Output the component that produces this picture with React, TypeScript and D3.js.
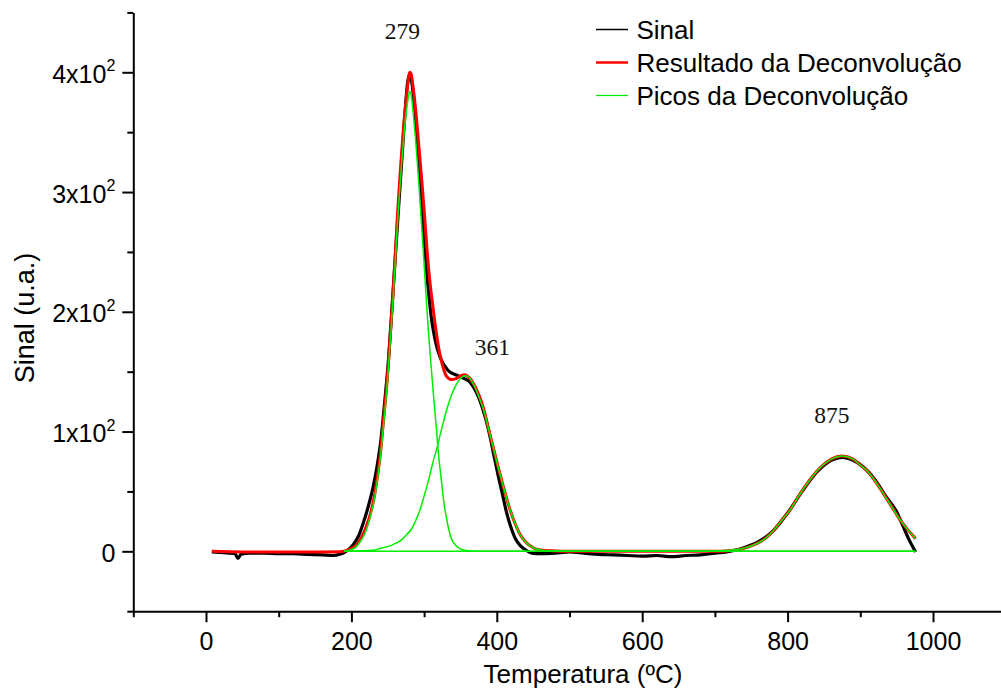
import { useEffect, useRef } from "react";
import * as d3 from "d3";

type Pt = [number, number];

// [temperatura ºC, sinal u.a.]
const sinal: Pt[] = [
  [8, -0.5], [20, -1], [32, -1.5], [40, -2], [44, -6], [48, -2.5], [60, -1.5], [80, -1.5],
  [100, -2], [120, -2], [140, -2.5], [160, -3], [175, -3.5], [184, -2.5], [190, -1], [197, 2],
  [203, 6], [210, 13], [216, 23], [223, 37], [230, 54], [235, 70], [240, 90], [246, 126],
  [251, 160], [256, 205], [260, 242], [265, 288], [270, 333], [274, 368], [277, 390], [280, 398],
  [283, 392], [287, 370], [291, 342], [295, 310], [300, 262], [305, 224], [310, 195], [315, 177],
  [322, 162], [333, 151], [345, 147], [356, 144], [362, 142], [368, 137], [374, 130], [379, 122],
  [385, 110], [391, 95], [396, 80], [402, 63], [408, 47], [414, 31], [420, 19], [426, 10],
  [432, 5], [440, 1], [448, -1.5], [460, -2], [480, -1.5], [500, -0.5], [520, -1.5], [540, -2.5],
  [560, -3], [580, -3.5], [600, -4], [620, -3.5], [640, -4.5], [660, -3.5], [680, -3], [700, -1.5],
  [720, 0], [740, 3], [760, 8], [780, 17], [800, 32], [820, 50], [840, 66], [860, 76],
  [875, 78.5], [890, 76], [905, 70], [920, 60], [935, 46], [950, 33], [958, 22], [966, 11],
  [976, -0.5],
];

const resultado: Pt[] = [
  [8, 0], [50, -0.5], [100, -0.5], [150, -0.5], [185, -0.3], [195, 1], [202, 3], [208, 6],
  [214, 11.5], [220, 20], [226, 31], [231, 44], [235, 59], [240, 82], [244, 108], [248, 134],
  [251, 158], [254, 185], [257, 213], [260, 244], [263, 277], [266, 306], [269, 332], [272, 356],
  [275, 376], [278, 392], [280, 400], [282, 399], [285, 387], [288, 371], [291, 351], [294, 330],
  [297, 308], [300, 285], [304, 252], [308, 225], [312, 205], [316, 186], [320, 170], [325, 156],
  [331, 146], [337, 143.5], [343, 144], [350, 146.5], [356, 147.5], [362, 145], [368, 140],
  [375, 131], [382, 119], [388, 104], [395, 87], [402, 70], [409, 54], [416, 39], [423, 26.5],
  [432, 14], [440, 7.5], [450, 3], [460, 1.2], [480, 0.3], [500, 0], [600, 0], [700, 0],
  [720, 0.5], [740, 2.5], [758, 6.5], [770, 11], [781, 17.5], [792, 26], [804, 35], [815, 46],
  [831, 60], [845, 70], [860, 77], [875, 79.5], [890, 77], [900, 72], [909, 67.5], [920, 59],
  [932, 48], [944, 36.5], [955, 26], [966, 17.5], [976, 10.6],
];

const pico1: Pt[] = [
  [190, 0], [200, 1.5], [206, 3.5], [212, 8], [220, 17], [226, 29], [231, 42], [235, 56],
  [240, 79], [244, 104], [248, 130], [251, 154], [254, 180], [257, 208], [260, 238], [263, 270],
  [266, 298], [269, 323], [272, 346], [275, 364], [278, 378], [280, 384], [282, 382], [285, 366],
  [288, 346], [291, 322], [294, 296], [297, 268], [300, 240], [303, 210], [306, 183], [310, 152],
  [313, 130], [317, 102], [320, 80], [324, 58], [327, 42], [331, 27], [334, 18], [338, 10],
  [342, 6], [347, 3], [352, 1.5], [365, 0.2], [380, 0], [976, 0],
];

const pico2: Pt[] = [
  [190, 0], [230, 0.8], [240, 2.5], [248, 3.6], [255, 5], [262, 7], [269, 9.5], [276, 14],
  [282, 18], [288, 25], [294, 34], [300, 46], [306, 59], [312, 74], [318, 87], [324, 102],
  [331, 118], [338, 131], [345, 140], [352, 145.5], [358, 146.5], [364, 143.5], [370, 137],
  [376, 128], [382, 118], [388, 104], [395, 87], [402, 70], [409, 54], [416, 39], [423, 26.5],
  [432, 14], [440, 7.5], [450, 3], [462, 1], [480, 0.2], [500, 0], [976, 0],
];

const pico3: Pt[] = [
  [190, 0], [680, 0], [700, 0.3], [720, 0.8], [740, 2.5], [758, 6.5], [770, 11], [781, 17.5],
  [792, 26], [804, 35], [815, 46], [831, 60], [845, 70], [860, 77], [875, 79.5], [890, 77],
  [900, 72], [909, 67.5], [920, 59], [932, 48], [944, 36.5], [955, 26], [966, 17.5], [976, 10.6],
];

const xTicks = [0, 200, 400, 600, 800, 1000];
const xMinorTicks = [-100, 100, 300, 500, 700, 900, 1100];
const yTicks = [0, 100, 200, 300, 400];
const yTickBase = ["0", "1x10", "2x10", "3x10", "4x10"];
const yTickExp = ["", "2", "2", "2", "2"];
const yMinorTicks = [-50, 50, 150, 250, 350, 450];

const peakLabels = ["279", "361", "875"];
const peakLabelT = [270, 394, 861];
const peakLabelV = [428, 164, 107];

const legendLabels = ["Sinal", "Resultado da Deconvolução", "Picos da Deconvolução"];

const GREEN = "#00ee00";
const SANS = "'Liberation Sans', Arial, sans-serif";

const App = () => {
  const svgRef = useRef<SVGSVGElement>(null);

  useEffect(() => {
    const width = 1001;
    const height = 692;
    // right margin is negative: the x axis runs past the picture's edge
    const margin = { top: 12.4, right: -4.7, bottom: 80.8, left: 133.3 };

    const svg = d3.select(svgRef.current).attr("width", width).attr("height", height);
    svg.selectAll("*").remove();

    const x = d3.scaleLinear().domain([-100, 1100]).range([margin.left, width - margin.right]);
    const y = d3.scaleLinear().domain([-50, 450]).range([height - margin.bottom, margin.top]);

    const line = d3
      .line<Pt>()
      .x((d) => x(d[0]))
      .y((d) => y(d[1]))
      .curve(d3.curveMonotoneX);

    const series = [
      { data: sinal, color: "#000", w: 3.2 },
      { data: resultado, color: "#ff0000", w: 3 },
      { data: pico1, color: GREEN, w: 1.5 },
      { data: pico2, color: GREEN, w: 1.5 },
      { data: pico3, color: GREEN, w: 1.5 },
    ];
    series.forEach((s) => {
      svg
        .append("path")
        .datum(s.data)
        .attr("fill", "none")
        .attr("stroke", s.color)
        .attr("stroke-width", s.w)
        .attr("stroke-linejoin", "round")
        .attr("d", line);
    });

    // x axis
    const xg = svg.append("g").attr("transform", `translate(0,${y(-50)})`);
    xg.append("g")
      .call(d3.axisBottom(x).tickValues(xMinorTicks).tickSize(6).tickSizeOuter(0).tickFormat(() => ""))
      .call((ax) => ax.select(".domain").remove())
      .selectAll(".tick line")
      .attr("stroke-width", 2);
    xg.append("g")
      .call(
        d3.axisBottom(x).tickValues(xTicks).tickSize(11).tickPadding(10).tickSizeOuter(0).tickFormat(d3.format("d"))
      )
      .call((ax) => {
        ax.select(".domain").attr("stroke-width", 2);
        ax.selectAll(".tick line").attr("stroke-width", 2);
        ax.selectAll("text").style("font-size", "25px").style("font-family", SANS).style("fill", "#000");
      });

    // y axis
    const yg = svg.append("g").attr("transform", `translate(${x(-100)},0)`);
    yg.append("g")
      .call(d3.axisLeft(y).tickValues(yMinorTicks).tickSize(6).tickSizeOuter(0).tickFormat(() => ""))
      .call((ax) => ax.select(".domain").remove())
      .selectAll(".tick line")
      .attr("stroke-width", 2);
    yg.append("g")
      .call(d3.axisLeft(y).tickValues(yTicks).tickSize(11).tickSizeOuter(0).tickFormat(() => ""))
      .call((ax) => {
        ax.select(".domain").attr("stroke-width", 2);
        ax.selectAll(".tick line").attr("stroke-width", 2);
      });

    yTicks.forEach((v, i) => {
      const t = yg
        .append("text")
        .attr("x", -18)
        .attr("y", y(v) + 10.5)
        .attr("text-anchor", "end")
        .style("font-family", SANS)
        .style("font-size", "25px")
        .style("fill", "#000");
      t.append("tspan").text(yTickBase[i]);
      if (yTickExp[i]) {
        t.append("tspan").attr("dy", -11.5).style("font-size", "16px").text(yTickExp[i]);
      }
    });

    // axis titles
    svg
      .append("text")
      .attr("x", 583)
      .attr("y", 683)
      .attr("text-anchor", "middle")
      .style("font-family", SANS)
      .style("font-size", "26px")
      .text("Temperatura (ºC)");

    svg
      .append("text")
      .attr("transform", "translate(33.5,318) rotate(-90)")
      .attr("text-anchor", "middle")
      .style("font-family", SANS)
      .style("font-size", "27px")
      .text("Sinal (u.a.)");

    // peak annotations
    peakLabels.forEach((lbl, i) => {
      svg
        .append("text")
        .attr("x", x(peakLabelT[i]))
        .attr("y", y(peakLabelV[i]))
        .attr("text-anchor", "middle")
        .style("font-family", "'Liberation Serif', 'Times New Roman', serif")
        .style("font-size", "23.5px")
        .style("fill", "#111")
        .text(lbl);
    });

    // legend
    const legendColors = ["#000", "#ff0000", GREEN];
    const legendWidths = [1.5, 2.5, 1.2];
    const legend = svg.append("g").attr("transform", "translate(596,29.5)");
    legendLabels.forEach((lbl, i) => {
      const row = legend.append("g").attr("transform", `translate(0,${i * 33})`);
      row
        .append("line")
        .attr("x1", 0)
        .attr("x2", 32)
        .attr("y1", 0)
        .attr("y2", 0)
        .attr("stroke", legendColors[i])
        .attr("stroke-width", legendWidths[i]);
      row
        .append("text")
        .attr("x", 40.5)
        .attr("y", 9.5)
        .style("font-family", SANS)
        .style("font-size", "26px")
        .style("fill", "#000")
        .text(lbl);
    });
  }, []);

  return (
    <svg
      ref={svgRef}
      style={{ position: "absolute", left: 0, top: 0, display: "block", background: "#fff" }}
    />
  );
};

export default App;
